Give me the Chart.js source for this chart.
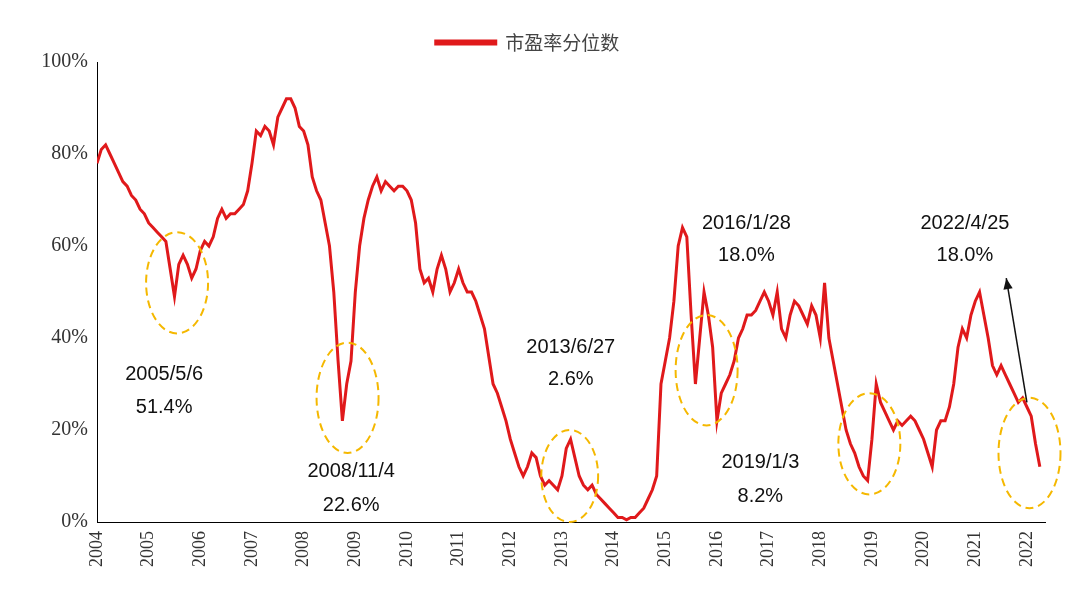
<!DOCTYPE html>
<html><head><meta charset="utf-8">
<script src="https://cdn.jsdelivr.net/npm/chart.js@4/dist/chart.umd.min.js"></script>
<style>body{margin:0;background:#fff}#wrap{width:1080px;height:608px}</style>
</head><body><div id="wrap"><canvas id="chart"></canvas></div>
<script>
// monthly percentile values, Jan 2004 .. Apr 2022
const years = [2004,2005,2006,2007,2008,2009,2010,2011,2012,2013,2014,2015,2016,2017,2018,2019,2020,2021,2022];
const peValues = [
  78,81,82,80,78,76,74,73,71,70,68,67,
  65,64,63,62,61,55,49,56,58,56,53,55,
  59,61,60,62,66,68,66,67,67,68,69,72,
  78,85,84,86,85,82,88,90,92,92,90,86,
  85,82,75,72,70,65,60,50,35,22,30,35,
  50,60,66,70,73,75,72,74,73,72,73,73,
  72,70,65,55,52,53,50,55,58,55,50,52,
  55,52,50,50,48,45,42,36,30,28,25,22,
  18,15,12,10,12,15,14,10,8,9,8,7,
  10,16,18,14,10,8,7,8,6,5,4,3,
  2,1,1,0.5,1,1,2,3,5,7,10,30,
  35,40,48,60,64,62,45,30,40,50,45,38,
  22,28,30,32,35,40,42,45,45,46,48,50,
  48,45,50,42,40,45,48,47,45,43,47,45,
  40,52,40,35,30,25,20,17,15,12,10,9,
  18,30,26,24,22,20,22,21,22,23,22,20,
  18,15,12,20,22,22,25,30,38,42,40,45,
  48,50,45,40,34,32,34,32,30,28,26,27,
  25,23,17,12
];
const ellipses = [[2005.55,52,0.6,11],[2008.85,27,0.6,12],[2013.15,10,0.55,10],[2015.8,33,0.6,12],[2018.95,17,0.6,11],[2022.05,15,0.6,12]];
const notes = [
  [2005.3,32,'2005/5/6'],[2005.3,25,'51.4%'],
  [2008.92,11,'2008/11/4'],[2008.92,3.5,'22.6%'],
  [2013.17,38,'2013/6/27'],[2013.17,31,'2.6%'],
  [2016.57,65,'2016/1/28'],[2016.57,58,'18.0%'],
  [2016.84,13,'2019/1/3'],[2016.84,5.6,'8.2%'],
  [2020.8,65,'2022/4/25'],[2020.8,58,'18.0%']
];
const arrow = [2022.0,26,2021.6,53];

const points = peValues.map((v, i) => ({ x: 2004 + i / 12, y: v }));

const annot = {
  id: 'annot',
  afterDatasetsDraw(chart) {
    const { ctx, scales: { x, y } } = chart;
    ctx.save();
    ctx.strokeStyle = '#f5b800'; ctx.lineWidth = 2; ctx.setLineDash([8, 5]);
    ellipses.forEach(([cx, cy, rx, ry]) => {
      ctx.beginPath();
      ctx.ellipse(x.getPixelForValue(cx), y.getPixelForValue(cy),
        x.getPixelForValue(cx + rx) - x.getPixelForValue(cx),
        y.getPixelForValue(cy) - y.getPixelForValue(cy + ry), 0, 0, Math.PI * 2);
      ctx.stroke();
    });
    ctx.setLineDash([]);
    ctx.fillStyle = '#111'; ctx.font = '20px "Liberation Sans", sans-serif';
    ctx.textAlign = 'center'; ctx.textBaseline = 'middle';
    notes.forEach(([nx, ny, t]) => ctx.fillText(t, x.getPixelForValue(nx), y.getPixelForValue(ny)));
    const x1 = x.getPixelForValue(arrow[0]), y1 = y.getPixelForValue(arrow[1]);
    const x2 = x.getPixelForValue(arrow[2]), y2 = y.getPixelForValue(arrow[3]);
    ctx.strokeStyle = '#111'; ctx.lineWidth = 1.5;
    ctx.beginPath(); ctx.moveTo(x1, y1); ctx.lineTo(x2, y2); ctx.stroke();
    const a = Math.atan2(y2 - y1, x2 - x1);
    ctx.beginPath(); ctx.moveTo(x2, y2);
    ctx.lineTo(x2 - 12 * Math.cos(a - 0.4), y2 - 12 * Math.sin(a - 0.4));
    ctx.lineTo(x2 - 12 * Math.cos(a + 0.4), y2 - 12 * Math.sin(a + 0.4));
    ctx.closePath(); ctx.fill();
    ctx.restore();
  }
};

new Chart(document.getElementById('chart'), {
  type: 'line',
  data: { datasets: [{ label: '市盈率分位数', data: points, borderColor: '#e0191b', backgroundColor: '#e0191b', borderWidth: 3, pointRadius: 0, tension: 0 }] },
  options: {
    responsive: true, maintainAspectRatio: false, animation: false,
    layout: { padding: { left: 10, right: 35, top: 5, bottom: 38 } },
    plugins: {
      legend: { labels: { boxWidth: 60, boxHeight: 3, color: '#444', font: { family: '"Noto Sans CJK SC"', size: 19 }, padding: 28 } },
      tooltip: { enabled: false }
    },
    scales: {
      x: { type: 'linear', min: 2004, max: 2022.35,
        afterBuildTicks: s => { s.ticks = years.map(v => ({ value: v })); },
        grid: { display: false, tickLength: 6 },
        border: { color: '#000' },
        ticks: { maxRotation: 90, minRotation: 90, color: '#333', font: { family: '"Liberation Serif"', size: 18 }, callback: v => String(v) } },
      y: { min: 0, max: 100,
        afterFit: s => { s.width = 87; },
        grid: { display: false, tickLength: 6 }, border: { color: '#000' },
        ticks: { stepSize: 20, color: '#333', font: { family: '"Liberation Serif"', size: 20 }, callback: v => v + '%' } }
    }
  },
  plugins: [annot]
});
</script></body></html>
